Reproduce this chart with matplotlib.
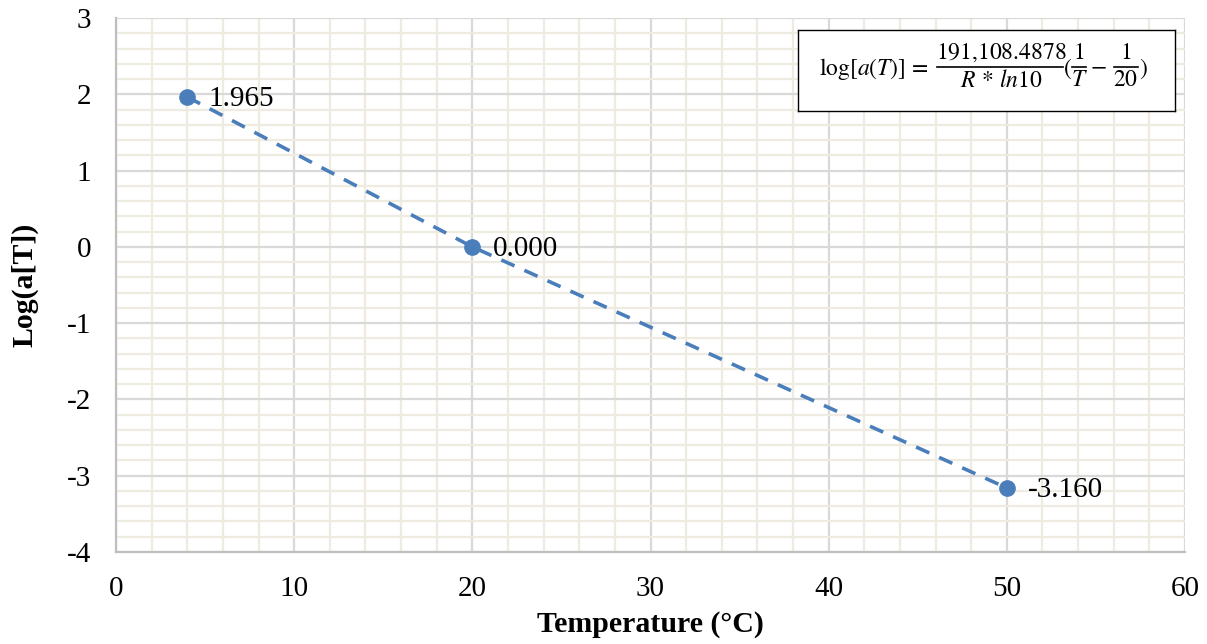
import matplotlib
matplotlib.use("Agg")
import matplotlib.pyplot as plt
from matplotlib.ticker import MultipleLocator

# Shift factor data
temperature_c = [4, 20, 50]
log_shift = [1.965, 0.000, -3.160]
point_labels = ["1.965", "0.000", "-3.160"]

x_ticks = [0, 10, 20, 30, 40, 50, 60]
y_ticks = [-4, -3, -2, -1, 0, 1, 2, 3]

plt.rcParams["font.family"] = ["Liberation Serif", "DejaVu Serif"]
plt.rcParams["mathtext.fontset"] = "stix"
plt.rcParams["axes.unicode_minus"] = False

W, H = 1207, 644
fig = plt.figure(figsize=(W / 100, H / 100), dpi=100)


def px_rect(x0, y0, x1, y1):
    """Figure-fraction rectangle from pixel edges (origin top-left)."""
    return [x0 / W, 1 - y1 / H, (x1 - x0) / W, (y1 - y0) / H]


ax = fig.add_axes(px_rect(116, 18, 1185, 552))

blue = "#4a7ebb"
ax.plot(temperature_c, log_shift, color=blue, linestyle=(0, (4, 3)), linewidth=2.6,
        marker="o", markersize=11, zorder=3)

for x, y, s in zip(temperature_c, log_shift, point_labels):
    ax.annotate(s, xy=(x, y), xytext=(15, -1.5), textcoords="offset points",
                ha="left", va="center", fontsize=21, color="black", zorder=4)

ax.set_xlim(0, 60)
ax.set_ylim(-4, 3)
ax.set_xticks(x_ticks)
ax.set_yticks(y_ticks)
ax.xaxis.set_minor_locator(MultipleLocator(2))
ax.yaxis.set_minor_locator(MultipleLocator(0.2))

ax.grid(which="minor", color="#eeebe1", linewidth=1.6, zorder=0)
ax.grid(which="major", color="#d9d9d9", linewidth=1.6, zorder=1)
ax.set_axisbelow(True)

for side in ["top", "right"]:
    ax.spines[side].set_visible(False)
for side in ["left", "bottom"]:
    ax.spines[side].set_color("#bfbfbf")
    ax.spines[side].set_linewidth(1.6)

ax.tick_params(which="both", length=0)
ax.tick_params(axis="x", labelsize=21, pad=17)
ax.tick_params(axis="y", labelsize=21, pad=18)

ax.set_xlabel("Temperature (°C)", fontsize=21.5, fontweight="bold", labelpad=7)
ax.set_ylabel("Log(a[T])", fontsize=21.5, fontweight="bold", labelpad=20)

# Equation box: a small axes in pixel-like units (x right, y down)
bx0, by0, bx1, by1 = 798, 30, 1175, 111
eq = fig.add_axes(px_rect(bx0, by0, bx1, by1), zorder=5)
eq.set_xlim(0, bx1 - bx0)
eq.set_ylim(by1 - by0, 0)
eq.set_xticks([])
eq.set_yticks([])
eq.set_facecolor("white")
for sp in eq.spines.values():
    sp.set_color("black")
    sp.set_linewidth(1.0)

fs = 17
bar_y = 37
txt = dict(fontsize=fs, color="black")


def place(x, y, s, ha="left", va="center"):
    eq.text(x - bx0, y - by0, s, ha=ha, va=va, **txt)


def frac(xc, x0, x1, num, den):
    eq.plot([x0 - bx0, x1 - bx0], [bar_y, bar_y], color="black", linewidth=1.2)
    eq.text(xc - bx0, bar_y - 3, num, ha="center", va="bottom", **txt)
    eq.text(xc - bx0, bar_y + 3, den, ha="center", va="top", **txt)


place(929, 69, r"$\log[a(T)]\,=$", ha="right")
frac(1001, 937, 1063, r"$\mathrm{191{,}108.4878}$", r"$R\,*\,ln\mathrm{10}$")
place(1068, 69, r"$($", ha="center")
frac(1079, 1072, 1086, r"$\mathrm{1}$", r"$T$")
place(1098, 67, r"$-$", ha="center")
frac(1126, 1114, 1138, r"$\mathrm{1}$", r"$\mathrm{20}$")
place(1143, 69, r"$)$", ha="center")

fig.savefig("out.png", dpi=100)
